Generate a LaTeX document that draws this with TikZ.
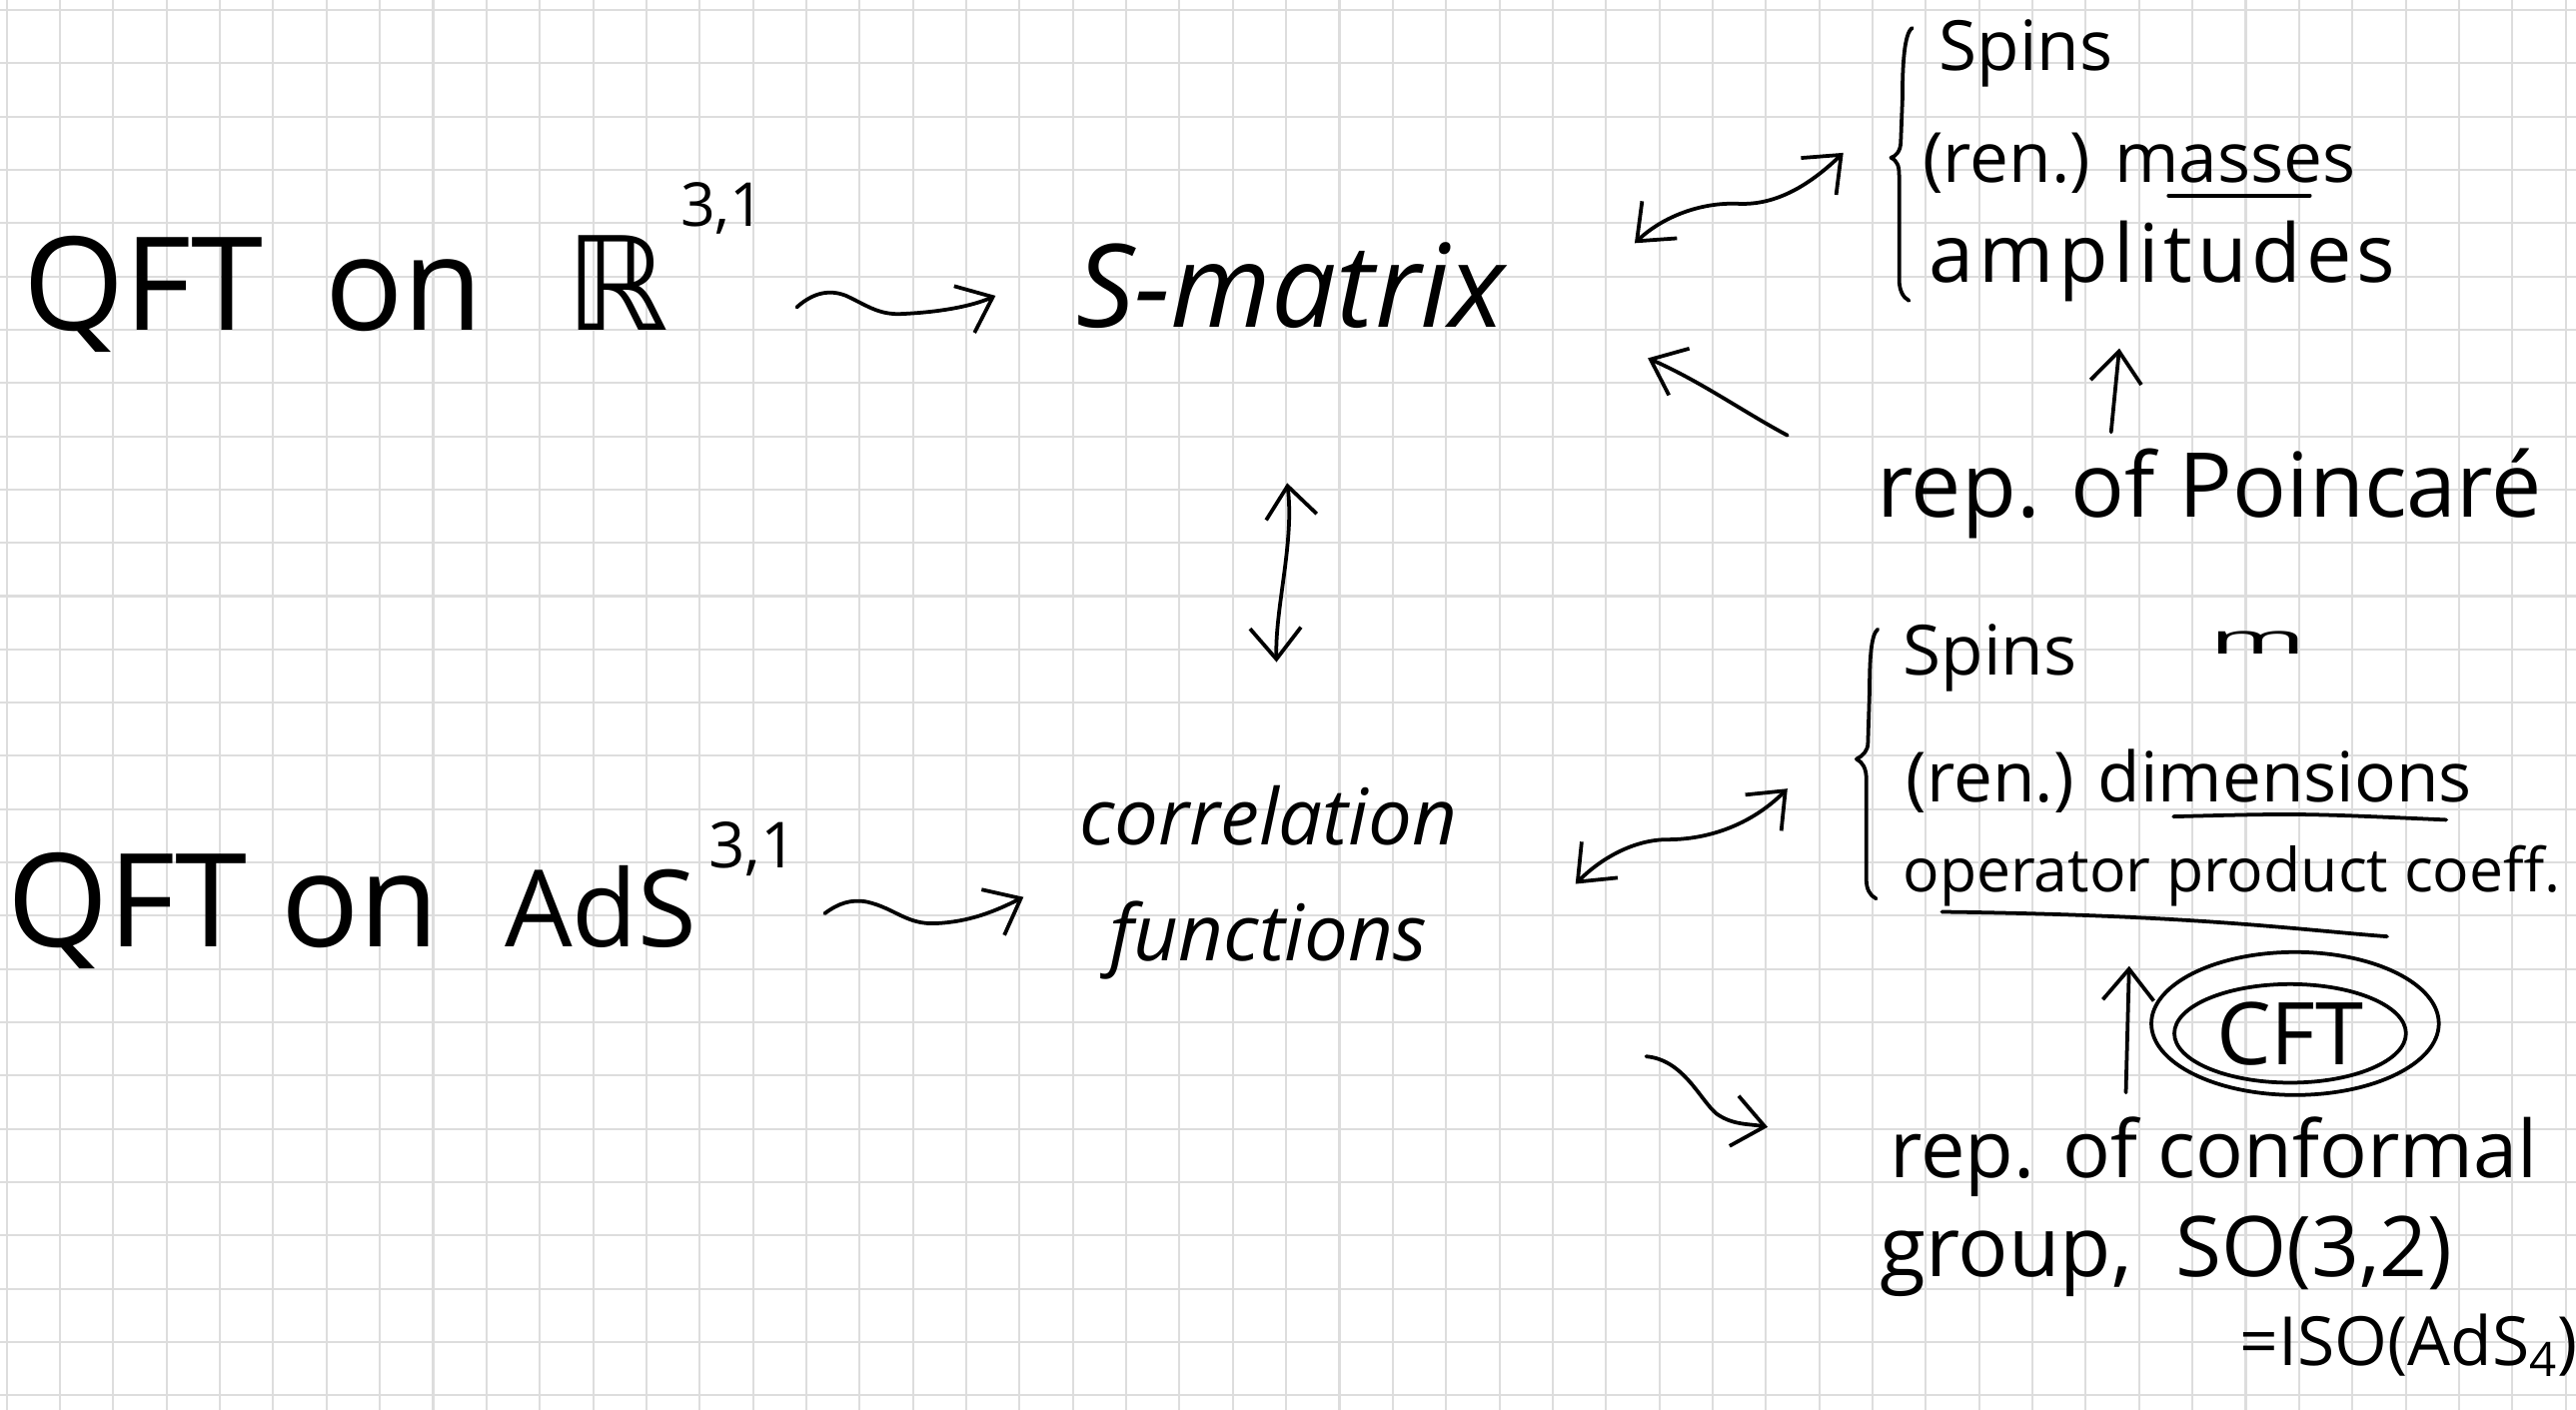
\documentclass[tikz,border=0pt]{standalone}
\usepackage{fontspec}
\setmainfont{Open Sans}
\newfontfamily\dejavu{DejaVu Sans}
\usetikzlibrary{arrows.meta,shapes.geometric}
\definecolor{gridgray}{HTML}{DDDDDD}
\definecolor{ink}{HTML}{000000}
\newcommand\fsz[1]{\fontsize{#1}{#1}\selectfont}
\tikzset{
  gridline/.style={draw=gridgray, line width=0.7pt},
  hand/.style={draw=ink, line width=1.3pt, line cap=round, line join=round},
  barb/.tip={Straight Barb[length=0.38cm,width=0.62cm]},
  harrow/.style={hand, -barb},
  hdarrow/.style={hand, barb-barb},
  lbl/.style={inner sep=0pt, anchor=base west, text=ink},
}
\begin{document}
\begin{tikzpicture}[x=0.02cm, y=-0.02cm]
\useasboundingbox (0,0) rectangle (1568,858);
\fill[white] (0,0) rectangle (1568,858);
% grid paper
\foreach \i in {0,...,48} {\draw[gridline] ({4.06+32.45*\i},0) -- ++(0,858);}
\foreach \j in {0,...,26} {\draw[gridline] (0,{6.08+32.43*\j}) -- ++(1568,0);}

% ---- top row ----
\node[lbl, font=\fsz{45}] (qftR) at (14,201) {QFT\hspace{0.75cm}on};
\node[lbl, font=\fsz{45}\dejavu] (Rsym) at (344,201) {ℝ};
\node[lbl, font=\fsz{21}] (supR) at (414,138) {3,1};
\node[lbl, font=\fsz{40}\itshape] (smat) at (655,199) {S-matrix};

\node[lbl, font=\fsz{24}] (spins1) at (1180,43) {Spins};
\node[lbl, font=\fsz{24}] (mass1) at (1170,111) {(ren.) masses};
\node[lbl, font=\fsz{28}\addfontfeature{LetterSpace=6}] (ampl) at (1174,172) {amplitudes};
\node[lbl, font=\fsz{31}] (poinc) at (1142,315) {rep. of Poincaré};

% ---- bottom row ----
\node[lbl, font=\fsz{45}] (qftA) at (4,576) {QFT on};
\node[lbl, font=\fsz{37}] (AdS) at (307,576) {AdS};
\node[lbl, font=\fsz{22}] (supA) at (431,528) {3,1};
\node[font=\fontsize{27}{40}\selectfont\itshape, align=center, inner sep=0pt, anchor=north, text=ink] (corr) at (772,478) {correlation\\functions};

\node[lbl, font=\fsz{24}] (spins2) at (1158,411) {Spins};
\node[lbl, font=\fsz{24}] (mB) at (1345,398) {\scalebox{1.5}[0.6]{m}};
\node[lbl, font=\fsz{24}] (dims) at (1160,488) {(ren.) dimensions};
\node[lbl, font=\fsz{21}] (ope) at (1158,543) {operator product coeff.};
\node[ellipse, draw=ink, line width=1.3pt, inner sep=0pt, minimum width=2.82cm, minimum height=1.2cm, font=\fsz{30}, text=ink] (cft) at (1394,629) {CFT};
\node[lbl, font=\fsz{27.5}] (conf1) at (1150,717) {rep. of conformal};
\node[lbl, font=\fsz{29}] (conf2) at (1144,777) {group, \ SO(3,2)};
\node[lbl, font=\fsz{23.5}] (iso) at (1363,831) {=ISO(AdS\textsubscript{4})};

% outer ring around CFT
\draw[hand] ([shift={(3,-6)}]cft.center) ellipse [x radius=1.75cm, y radius=0.87cm];

% braces
\draw[hand] (1164,17) .. controls (1159,20) and (1158,40) .. (1158,60) -- (1157,86)
  .. controls (1157,92) and (1154,95) .. (1151,96) .. controls (1155,98) and (1156,101) .. (1156,107)
  -- (1156,170) .. controls (1156,176) and (1158,181) .. (1162,183);
\draw[hand] (1143,383) .. controls (1139,386) and (1138,400) .. (1138,420) -- (1137,452)
  .. controls (1137,457) and (1134,460) .. (1130,462) .. controls (1134,464) and (1136,468) .. (1136,474)
  -- (1136,535) .. controls (1136,541) and (1138,545) .. (1142,547);

% underlines
\coordinate (u1a) at (1320,119); \coordinate (u1b) at (1406,119);
\draw[hand] (u1a) -- (u1b);
\coordinate (u2a) at (1323,497); \coordinate (u2b) at (1489,499);
\draw[hand] (u2a) .. controls (1400,495) .. (u2b);
\coordinate (u3a) at (1182,555); \coordinate (u3b) at (1453,570);
\draw[hand] (u3a) .. controls (1337,557) and (1400,566) .. (u3b);

% connectors
\coordinate (t1s) at (485,187); \coordinate (t1e) at (606,180);
\draw[harrow] (t1s) .. controls (495,178) and (505,176) .. (515,180)
  .. controls (528,186) and (535,192) .. (550,191) .. controls (570,190) and (590,187) .. (t1e);
\coordinate (t2s) at (502,556); \coordinate (t2e) at (623,546);
\draw[harrow] (t2s) .. controls (510,550) and (518,547) .. (528,549)
  .. controls (545,553) and (552,563) .. (570,562) .. controls (590,561) and (605,555) .. (t2e);

\coordinate (b1L) at (995,148); \coordinate (b1R) at (1122,93);
\draw[hdarrow] (b1L) .. controls (1012,132) and (1035,123) .. (1058,124)
  .. controls (1080,125) and (1100,114) .. (b1R);
\coordinate (b2L) at (959,538); \coordinate (b2R) at (1088,480);
\draw[hdarrow] (b2L) .. controls (975,522) and (995,511) .. (1015,511)
  .. controls (1040,511) and (1066,502) .. (b2R);

\coordinate (pS) at (1088,265); \coordinate (pE) at (1003,218);
\draw[harrow] (pS) .. controls (1060,250) and (1035,232) .. (pE);
\coordinate (aS) at (1285,263); \coordinate (aE) at (1290,212);
\draw[harrow] (aS) -- (aE);

\coordinate (dT) at (783.5,294); \coordinate (dB) at (777,403);
\draw[hdarrow] (dT) .. controls (788,330) and (776,370) .. (dB);

\coordinate (cS) at (1002,643); \coordinate (cE) at (1076,686);
\draw[harrow] (cS) .. controls (1025,645) and (1035,670) .. (1045,678)
  .. controls (1055,685) and (1065,684) .. (cE);

\coordinate (fS) at (1294,665); \coordinate (fE) at (1296,588);
\draw[harrow] (fS) -- (fE);
\end{tikzpicture}
\end{document}
